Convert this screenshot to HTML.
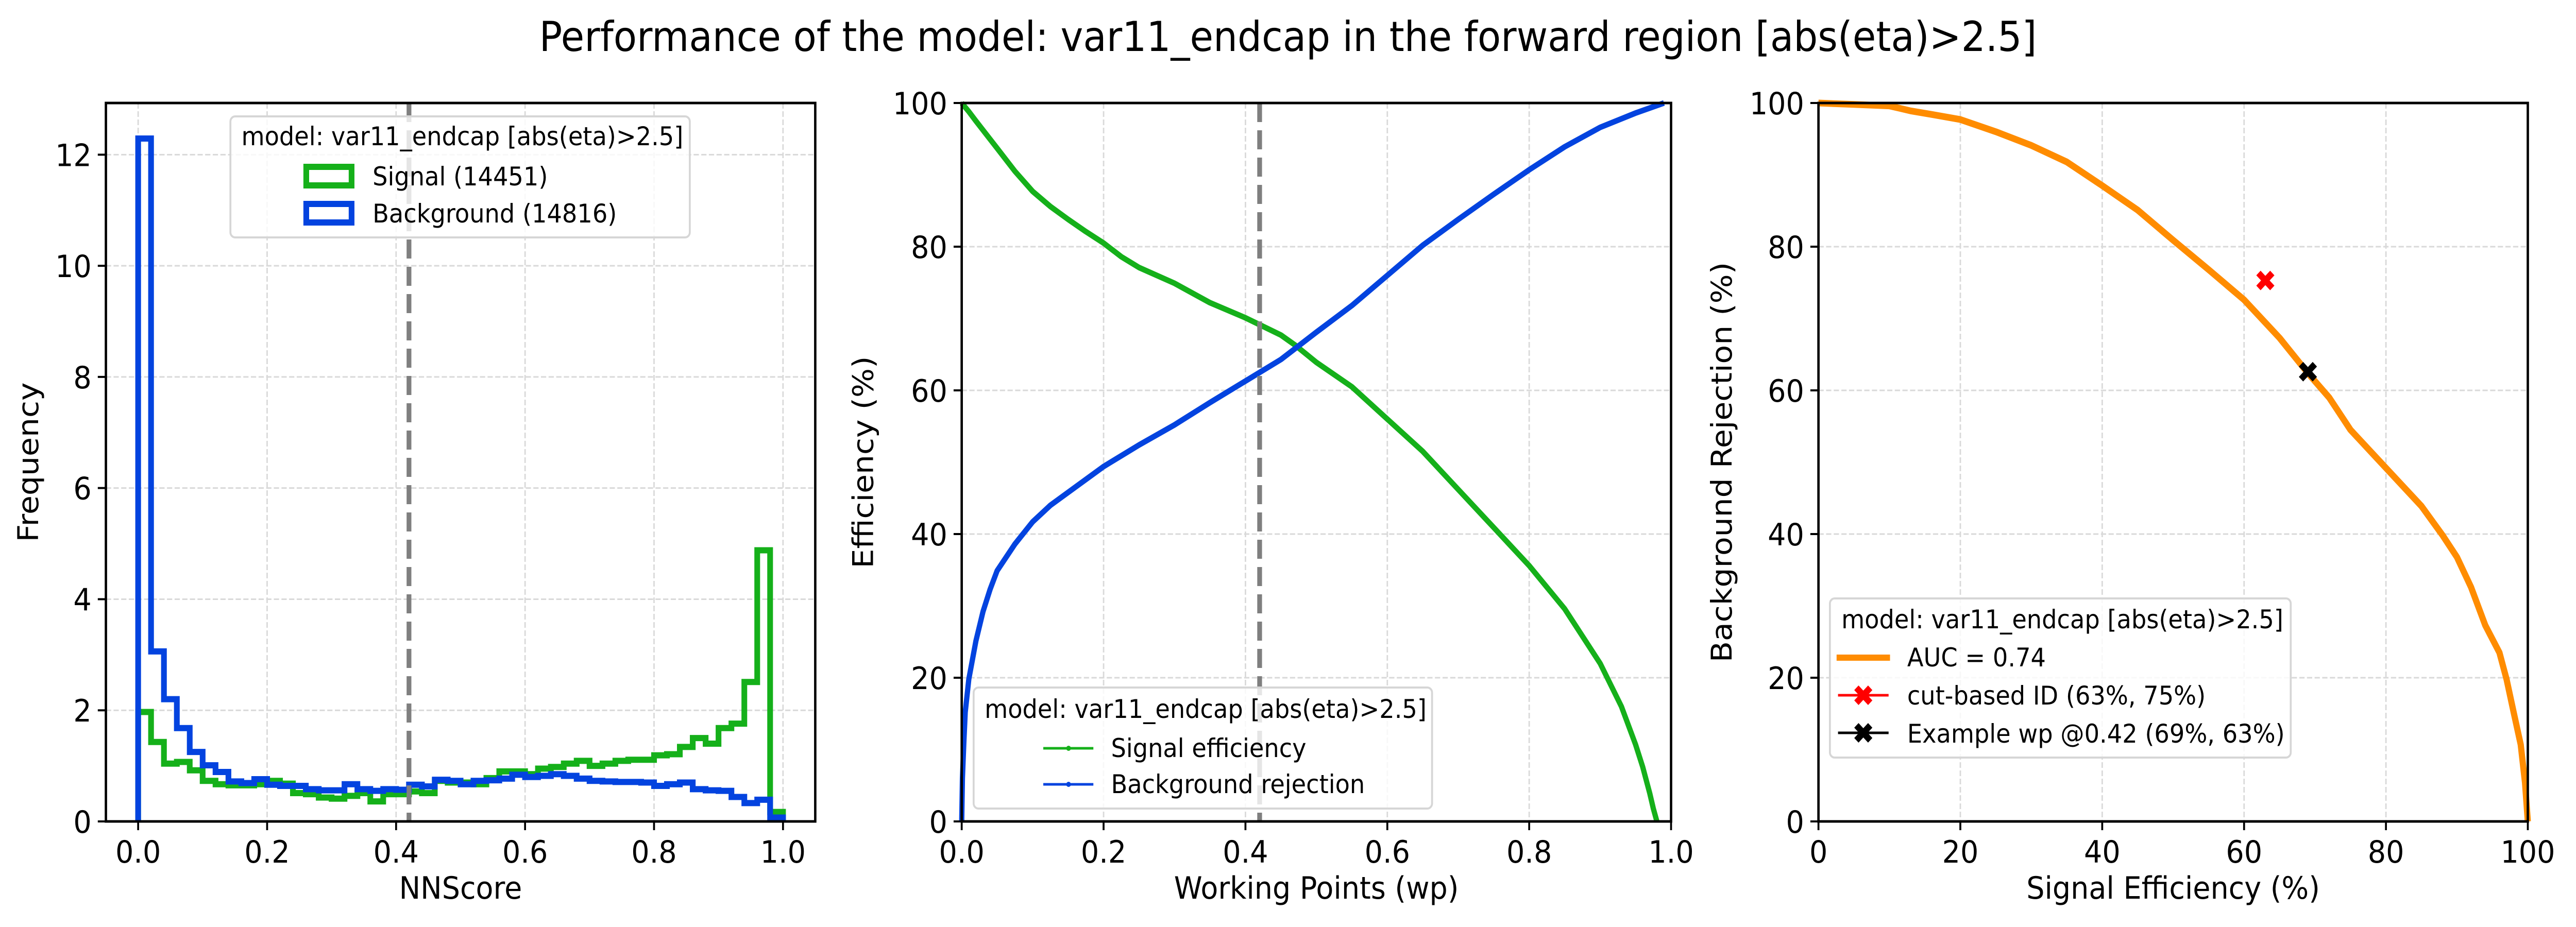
<!DOCTYPE html>
<html><head><meta charset="utf-8">
<style>
html,body{margin:0;padding:0;background:#fff;width:100%;height:100%;overflow:hidden;}
#fig{display:block;position:absolute;left:0;top:0;width:100vw;height:100vh;}
svg text{font-family:"DejaVu Sans","Liberation Sans",sans-serif;}
</style></head>
<body>
<svg id="fig" xmlns="http://www.w3.org/2000/svg" viewBox="0 0 5400 1800" preserveAspectRatio="none">
<rect x="0" y="0" width="5400" height="1800" fill="#fff"/>
<text x="2700" y="99" font-size="80" text-anchor="middle">Performance of the model: var11_endcap in the forward region [abs(eta)&gt;2.5]</text>
</svg>
<script>
// ---------- data ----------
const binEdgesStart = 0, binWidth = 0.02;
const signalHist = [1.97,1.43,1.04,1.07,0.92,0.73,0.67,0.65,0.65,0.67,0.73,0.68,0.51,0.49,0.43,0.41,0.46,0.51,0.36,0.49,0.49,0.54,0.51,0.73,0.70,0.70,0.67,0.78,0.90,0.90,0.85,0.95,0.98,1.04,1.09,1.00,1.04,1.09,1.11,1.11,1.19,1.21,1.34,1.50,1.40,1.68,1.76,2.51,4.88,0.17];
const backgroundHist = [12.29,3.06,2.20,1.68,1.25,1.01,0.89,0.72,0.69,0.76,0.66,0.64,0.64,0.58,0.56,0.56,0.67,0.58,0.55,0.58,0.57,0.66,0.63,0.75,0.73,0.67,0.73,0.74,0.77,0.84,0.80,0.82,0.85,0.82,0.77,0.73,0.72,0.71,0.71,0.70,0.64,0.67,0.70,0.58,0.56,0.55,0.44,0.33,0.39,0.07];
const histYTicks = [0,2,4,6,8,10,12];
const histXTicks = [0.0,0.2,0.4,0.6,0.8,1.0];
const workingPoint = 0.42;

const sigWp  = [0,0.01,0.02,0.035,0.05,0.075,0.1,0.125,0.15,0.175,0.2,0.225,0.25,0.3,0.35,0.4,0.45,0.47,0.5,0.55,0.6,0.65,0.7,0.75,0.8,0.85,0.9,0.93,0.95,0.96,0.97,0.975,0.98];
const sigEff = [100,98.8,97.5,95.6,93.7,90.5,87.7,85.6,83.8,82.1,80.5,78.6,77.1,74.9,72.2,70.1,67.7,66.3,63.9,60.5,56.0,51.5,46.2,40.9,35.6,29.6,22.0,16.0,10.7,7.6,3.9,1.8,0];
const bkgWp  = [0,0.001,0.003,0.005,0.01,0.02,0.03,0.04,0.05,0.075,0.1,0.125,0.15,0.2,0.25,0.3,0.35,0.4,0.45,0.5,0.55,0.6,0.65,0.7,0.75,0.8,0.85,0.9,0.95,0.99];
const bkgRej = [0,6,11,15.2,19.8,25.1,29.2,32.3,34.9,38.6,41.7,44.0,45.8,49.4,52.4,55.2,58.3,61.3,64.3,68.1,71.8,76.0,80.2,83.8,87.3,90.7,93.9,96.6,98.6,100];
const effTicks = [0,20,40,60,80,100];
const wpTicks = [0.0,0.2,0.4,0.6,0.8,1.0];

const rocSig = [0,5,10,13,16,20,25,30,35,40,45,50,55,60,65,69,72,75,80,85,88,90,92,94,96,97,98,99,99.6,100];
const rocBkg = [100,99.8,99.6,98.9,98.4,97.7,96.0,94.1,91.8,88.5,85.1,80.9,76.8,72.6,67.3,62.4,59.0,54.5,49.2,43.9,39.8,36.8,32.6,27.3,23.5,19.8,15.2,10.7,5.4,0];
const cutBased = [63, 75.3];
const examplePoint = [69, 62.6];
const rocTicks = [0,20,40,60,80,100];

// ---------- helpers ----------
const NS = "http://www.w3.org/2000/svg";
const svg = document.getElementById('fig');
function el(tag, attrs, parent){
  const e = document.createElementNS(NS, tag);
  for (const k in attrs) e.setAttribute(k, attrs[k]);
  (parent||svg).appendChild(e);
  return e;
}
function makeAxes(name, left, xmin, xmax, ymin, ymax){
  const top = 200, bottom = 1595, width = 1487;
  const g = el('g', {});
  
  
  return {g, left, right:left+width, top, bottom,
    sx: v => left + (v - xmin) / (xmax - xmin) * width,
    sy: v => bottom - (v - ymin) / (ymax - ymin) * (bottom - top)};
}
function fmt(v, d){ return d ? v.toFixed(d) : String(v); }
function drawGrid(ax, xt, yt){
  for (const t of xt){
    const l = el('line', {x1:ax.sx(t), x2:ax.sx(t), y1:ax.top, y2:ax.bottom, stroke:'#d9d9d9', 'stroke-width':3, 'stroke-dasharray':'11,5'}, ax.g);
    
    
  }
  for (const t of yt){
    const l = el('line', {x1:ax.left, x2:ax.right, y1:ax.sy(t), y2:ax.sy(t), stroke:'#d9d9d9', 'stroke-width':3, 'stroke-dasharray':'11,5'}, ax.g);
    
    
  }
}
function drawFrame(ax, xt, xd, yt, yd, xlabel, ylabel, ylabelX){
  const f = el('rect', {x:ax.left, y:ax.top, width:ax.right-ax.left, height:ax.bottom-ax.top, fill:'none', stroke:'#000', 'stroke-width':5}, ax.g);
  
  
  for (const t of xt){
    const x = ax.sx(t);
    el('line', {x1:x, x2:x, y1:ax.bottom, y2:ax.bottom+17, stroke:'#000', 'stroke-width':4}, ax.g);
    const tx = el('text', {x:x, y:ax.bottom+80, 'font-size':60, 'text-anchor':'middle'}, ax.g);
    tx.textContent = fmt(t, xd);
    
    
  }
  for (const t of yt){
    const y = ax.sy(t);
    el('line', {x1:ax.left-17, x2:ax.left, y1:y, y2:y, stroke:'#000', 'stroke-width':4}, ax.g);
    const tx = el('text', {x:ax.left-30, y:y+22, 'font-size':60, 'text-anchor':'end'}, ax.g);
    tx.textContent = fmt(t, yd);
    
    
  }
  const xl = el('text', {x:(ax.left+ax.right)/2, y:1745, 'font-size':60, 'text-anchor':'middle'}, ax.g);
  xl.textContent = xlabel;
  
  
  const cy = (ax.top+ax.bottom)/2;
  const yl = el('text', {x:ylabelX, y:cy, 'font-size':60, 'text-anchor':'middle', transform:`rotate(-90 ${ylabelX} ${cy})`}, ax.g);
  yl.textContent = ylabel;
  
  
}
function polyline(ax, xs, ys, color, w, name){
  const pts = xs.map((x,i)=>ax.sx(x).toFixed(1)+','+ax.sy(ys[i]).toFixed(1)).join(' ');
  const p = el('polyline', {points:pts, fill:'none', stroke:color, 'stroke-width':w, 'stroke-linejoin':'round'}, ax.g);
  
  
  return p;
}
function stepHist(ax, vals, color, name){
  let d = `M${ax.sx(binEdgesStart)},${ax.sy(0)}`;
  vals.forEach((v,i)=>{
    const x0 = ax.sx(binEdgesStart+i*binWidth), x1 = ax.sx(binEdgesStart+(i+1)*binWidth), y = ax.sy(v);
    d += ` L${x0},${y} L${x1},${y}`;
  });
  d += ` L${ax.sx(binEdgesStart+vals.length*binWidth)},${ax.sy(0)}`;
  const p = el('path', {d, fill:'none', stroke:color, 'stroke-width':12, 'stroke-linejoin':'miter'}, ax.g);
  
  
}
function legendBox(ax, x, y, w, h, name){
  const r = el('rect', {x, y, width:w, height:h, rx:10, fill:'#fff', 'fill-opacity':0.8, stroke:'#d6d6d6', 'stroke-width':4}, ax.g);
  
  
}
function text(ax, x, y, s, name, size){
  const t = el('text', {x, y, 'font-size':size||50}, ax.g);
  t.textContent = s;
  
  
}
function xMarker(ax, cx, cy, color, name){
  const s = 19, a = 9;
  const d = `M${cx-s+a},${cy-s} L${cx},${cy-a} L${cx+s-a},${cy-s} L${cx+s},${cy-s+a} L${cx+a},${cy} L${cx+s},${cy+s-a} L${cx+s-a},${cy+s} L${cx},${cy+a} L${cx-s+a},${cy+s} L${cx-s},${cy+s-a} L${cx-a},${cy} L${cx-s},${cy-s+a} Z`;
  const p = el('path', {d, fill:color}, ax.g);
  
  
}
function wpLine(ax){
  const l = el('line', {x1:ax.sx(workingPoint), x2:ax.sx(workingPoint), y1:ax.top, y2:ax.bottom, stroke:'#7f7f7f', 'stroke-width':10, 'stroke-dasharray':'37,16'}, ax.g);
  
  
}

// ---------- panel 1: histogram ----------
const a1 = makeAxes('score-histogram', 222, -0.05, 1.05, 0, 12.93);
drawGrid(a1, histXTicks, histYTicks);
stepHist(a1, signalHist, '#15b01a', 'signal-histogram');
stepHist(a1, backgroundHist, '#0343df', 'background-histogram');
wpLine(a1);
drawFrame(a1, histXTicks, 1, histYTicks, 0, 'NNScore', 'Frequency', 80);
legendBox(a1, 483, 226, 963, 235, 'histogram-legend');
text(a1, 506, 282, 'model: var11_endcap [abs(eta)>2.5]', 'legend-title');
let r = el('rect', {x:642, y:324, width:95, height:36, fill:'none', stroke:'#15b01a', 'stroke-width':12}, a1.g);


r = el('rect', {x:642, y:396, width:95, height:36, fill:'none', stroke:'#0343df', 'stroke-width':12}, a1.g);


text(a1, 781, 360, 'Signal (14451)', 'legend-entry-signal');
text(a1, 781, 432, 'Background (14816)', 'legend-entry-background');

// ---------- panel 2: efficiency vs wp ----------
const a2 = makeAxes('efficiency-plot', 2016, 0, 1, 0, 100);
drawGrid(a2, wpTicks, effTicks);
polyline(a2, sigWp, sigEff, '#15b01a', 11, 'signal-efficiency-line');
polyline(a2, bkgWp, bkgRej, '#0343df', 11, 'background-rejection-line');
wpLine(a2);
drawFrame(a2, wpTicks, 1, effTicks, 0, 'Working Points (wp)', 'Efficiency (%)', 1830);
legendBox(a2, 2041, 1335, 961, 235, 'efficiency-legend');
text(a2, 2064, 1394, 'model: var11_endcap [abs(eta)>2.5]', 'legend-title');
let l = el('line', {x1:2187, x2:2292, y1:1453, y2:1453, stroke:'#15b01a', 'stroke-width':5}, a2.g);


el('circle', {cx:2240, cy:1453, r:5, fill:'#15b01a'}, a2.g);
l = el('line', {x1:2187, x2:2292, y1:1523, y2:1523, stroke:'#0343df', 'stroke-width':5}, a2.g);


el('circle', {cx:2240, cy:1523, r:5, fill:'#0343df'}, a2.g);
text(a2, 2329, 1470, 'Signal efficiency', 'legend-entry-signal');
text(a2, 2329, 1540, 'Background rejection', 'legend-entry-background');

// ---------- panel 3: ROC ----------
const a3 = makeAxes('roc-plot', 3812, 0, 100, 0, 100);
drawGrid(a3, rocTicks, rocTicks);
polyline(a3, rocSig, rocBkg, '#ff8c00', 13, 'roc-curve');
xMarker(a3, a3.sx(cutBased[0]), a3.sy(cutBased[1]), '#ff0000', 'cut-based-marker');
xMarker(a3, a3.sx(examplePoint[0]), a3.sy(examplePoint[1]), '#000000', 'example-wp-marker');
drawFrame(a3, rocTicks, 0, rocTicks, 0, 'Signal Efficiency (%)', 'Background Rejection (%)', 3630);
legendBox(a3, 3836, 1162, 966, 309, 'roc-legend');
text(a3, 3860, 1220, 'model: var11_endcap [abs(eta)>2.5]', 'legend-title');
l = el('line', {x1:3850, x2:3962, y1:1277, y2:1277, stroke:'#ff8c00', 'stroke-width':12}, a3.g);


l = el('line', {x1:3853, x2:3959, y1:1350, y2:1350, stroke:'#ff0000', 'stroke-width':5}, a3.g);


xMarker(a3, 3906, 1350, '#ff0000', 'legend-cut-based-marker');
l = el('line', {x1:3853, x2:3959, y1:1423, y2:1423, stroke:'#000', 'stroke-width':5}, a3.g);


xMarker(a3, 3906, 1423, '#000000', 'legend-example-marker');
text(a3, 3998, 1294, 'AUC = 0.74', 'legend-entry-auc');
text(a3, 3998, 1368, 'cut-based ID (63%, 75%)', 'legend-entry-cut-based');
text(a3, 3998, 1442, 'Example wp @0.42 (69%, 63%)', 'legend-entry-example');
</script>
</body></html>
